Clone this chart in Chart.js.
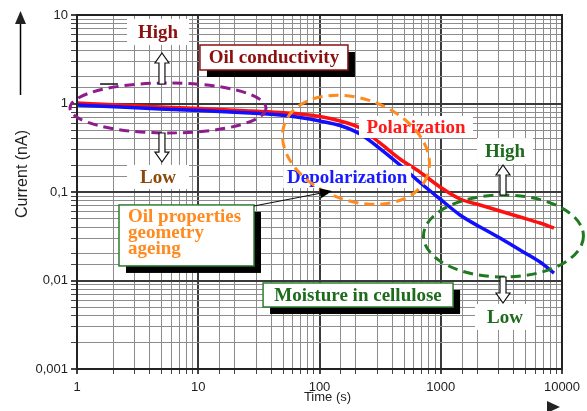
<!DOCTYPE html>
<html>
<head>
<meta charset="utf-8">
<script src="https://cdn.jsdelivr.net/npm/chart.js@4.4.0/dist/chart.umd.min.js"></script>
<style>
  html, body { margin: 0; padding: 0; background: #fff; }
  #wrap { width: 587px; height: 411px; position: relative; }
</style>
</head>
<body>
<div id="wrap"><canvas id="pdcChart"></canvas></div>
<script>
"use strict";
const timeS = [1, 2.26, 4.84, 10.3, 22.1, 47.2, 69.1, 101, 148, 216, 315, 461, 674, 986, 1442, 2108, 3082, 4506, 6587, 8590];
const polarizationNA = [1.013, 0.962, 0.913, 0.878, 0.834, 0.791, 0.761, 0.713, 0.634, 0.529, 0.358, 0.236, 0.168, 0.114, 0.0834, 0.0713, 0.061, 0.0522, 0.0446, 0.0392];
const depolarizationNA = [0.962, 0.913, 0.867, 0.834, 0.791, 0.741, 0.695, 0.634, 0.564, 0.452, 0.310, 0.202, 0.128, 0.0834, 0.055, 0.0402, 0.0302, 0.0221, 0.0162, 0.01215];

const timeTicks = [1, 10, 100, 1000, 10000];
const timeTickLabels = ['1', '10', '100', '1000', '10000'];
const currentTicks = [0.001, 0.01, 0.1, 1, 10];
const currentTickLabels = ['0,001', '0,01', '0,1', '1', '10'];

// annotations, anchored in data coordinates (time s, current nA)
const noteEllipses = [
  { x: 5.63, y: 0.89, rx: 98, ry: 25, rot: 0, color: '#8e1c8e' },
  { x: 200, y: 0.30, rx: 76, ry: 51, rot: 0.35, color: '#ff8a1f' },
  { x: 3290, y: 0.0318, rx: 80, ry: 41, rot: 0, color: '#1f7a1f' }
];
const noteLabels = [
  { text: 'High', x: 4.66, y: 6.43, color: '#8b1010', w: 62, h: 26 },
  { text: 'Low', x: 4.66, y: 0.148, color: '#8b4a0c', w: 62, h: 24 },
  { text: 'Polarization', x: 625, y: 0.543, color: '#ff1a1a', w: 114, h: 22 },
  { text: 'Depolarization', x: 169, y: 0.148, color: '#1a1aff', w: 128, h: 22 },
  { text: 'High', x: 3390, y: 0.29, color: '#1e6b1e', w: 56, h: 26 },
  { text: 'Low', x: 3390, y: 0.00387, color: '#1e6b1e', w: 60, h: 26 }
];
const noteBoxes = [
  { lines: ['Oil conductivity'], x: 42.1, y: 3.31, w: 148, h: 25, border: '#8b1010', color: '#8b1010', align: 'center' },
  { lines: ['Oil properties', 'geometry', 'ageing'], x: 8.0, y: 0.0323, w: 135, h: 61, border: '#2e7d32', color: '#ff8a1f', align: 'left' },
  { lines: ['Moisture in cellulose'], x: 208, y: 0.00686, w: 190, h: 24, border: '#2e7d32', color: '#1e6b1e', align: 'center' }
];
const hollowArrows = [
  { x: 5.02, from: 1.66, to: 3.72 },
  { x: 5.02, from: 0.464, to: 0.218 },
  { x: 3262, from: 0.0925, to: 0.2018 },
  { x: 3262, from: 0.01095, to: 0.00557 }
];
const pointer = { fromX: 28.8, fromY: 0.0695, toX: 126.8, toY: 0.1026 };
const shortDash = { fromX: 1.55, toX: 2.18, y: 1.66 };

const serifBold = 'bold 19px "Liberation Serif", "DejaVu Serif", serif';

function isDecade(v){
  let l = Math.log10(v);
  return Math.abs(l - Math.round(l)) < 1e-6;
}
function labelFor(v, ticks, labels){
  for(let i = 0; i < ticks.length; i++){
    if(Math.abs(Math.log10(v) - Math.log10(ticks[i])) < 1e-6) return labels[i];
  }
  return '';
}

function hollowArrow(ctx, x, yBase, yTip){
  let dir = yTip < yBase ? -1 : 1;
  let headLen = 10, headHalf = 7, shaftHalf = 3;
  let yHead = yTip - dir * headLen;
  ctx.beginPath();
  ctx.moveTo(x - shaftHalf, yBase);
  ctx.lineTo(x - shaftHalf, yHead);
  ctx.lineTo(x - headHalf, yHead);
  ctx.lineTo(x, yTip);
  ctx.lineTo(x + headHalf, yHead);
  ctx.lineTo(x + shaftHalf, yHead);
  ctx.lineTo(x + shaftHalf, yBase);
  ctx.closePath();
  ctx.fillStyle = '#fff';
  ctx.fill();
  ctx.strokeStyle = '#111';
  ctx.lineWidth = 1.2;
  ctx.stroke();
}

const notesPlugin = {
  id: 'pdcNotes',
  afterDatasetsDraw(chart){
    const ctx = chart.ctx;
    const xs = chart.scales.x, ys = chart.scales.y;
    const area = chart.chartArea;
    ctx.save();

    // frame around the plot
    ctx.strokeStyle = '#222';
    ctx.lineWidth = 2;
    ctx.strokeRect(area.left, area.top, area.right - area.left, area.bottom - area.top);

    ctx.textAlign = 'center';
    ctx.textBaseline = 'middle';
    ctx.font = serifBold;

    // white patches + labels
    noteLabels.forEach(n => {
      let px = xs.getPixelForValue(n.x), py = ys.getPixelForValue(n.y);
      ctx.fillStyle = '#fff';
      ctx.fillRect(px - n.w / 2, py - n.h / 2, n.w, n.h);
      ctx.fillStyle = n.color;
      ctx.fillText(n.text, px, py + 1);
    });

    // shadowed boxes
    noteBoxes.forEach(b => {
      let cx = xs.getPixelForValue(b.x), cy = ys.getPixelForValue(b.y);
      let left = cx - b.w / 2, top = cy - b.h / 2;
      ctx.fillStyle = '#000';
      ctx.fillRect(left + 7, top + 7, b.w, b.h);
      ctx.fillStyle = '#fff';
      ctx.fillRect(left, top, b.w, b.h);
      ctx.strokeStyle = b.border;
      ctx.lineWidth = 1.5;
      ctx.strokeRect(left, top, b.w, b.h);
      ctx.fillStyle = b.color;
      if(b.align == 'left'){
        ctx.textAlign = 'left';
        b.lines.forEach((t, i) => ctx.fillText(t, left + 9, top + 12 + i * 16));
        ctx.textAlign = 'center';
      }
      else {
        ctx.fillText(b.lines[0], cx, cy + 1);
      }
    });

    // dashed ellipses
    ctx.setLineDash([10, 6]);
    ctx.lineWidth = 3;
    noteEllipses.forEach(e => {
      ctx.strokeStyle = e.color;
      ctx.beginPath();
      ctx.ellipse(xs.getPixelForValue(e.x), ys.getPixelForValue(e.y), e.rx, e.ry, e.rot, 0, Math.PI * 2);
      ctx.stroke();
    });
    ctx.setLineDash([]);

    // up / down arrows
    hollowArrows.forEach(a => {
      hollowArrow(ctx, xs.getPixelForValue(a.x), ys.getPixelForValue(a.from), ys.getPixelForValue(a.to));
    });

    // pointer from the oil properties box
    let x0 = xs.getPixelForValue(pointer.fromX), y0 = ys.getPixelForValue(pointer.fromY);
    let x1 = xs.getPixelForValue(pointer.toX), y1 = ys.getPixelForValue(pointer.toY);
    let ang = Math.atan2(y1 - y0, x1 - x0);
    ctx.strokeStyle = '#111';
    ctx.lineWidth = 1.2;
    ctx.beginPath();
    ctx.moveTo(x0, y0);
    ctx.lineTo(x1 - 8 * Math.cos(ang), y1 - 8 * Math.sin(ang));
    ctx.stroke();
    ctx.fillStyle = '#000';
    ctx.beginPath();
    ctx.moveTo(x1, y1);
    ctx.lineTo(x1 - 12 * Math.cos(ang) + 5 * Math.sin(ang), y1 - 12 * Math.sin(ang) - 5 * Math.cos(ang));
    ctx.lineTo(x1 - 12 * Math.cos(ang) - 5 * Math.sin(ang), y1 - 12 * Math.sin(ang) + 5 * Math.cos(ang));
    ctx.closePath();
    ctx.fill();

    // little dash left of the purple ellipse
    let dy = ys.getPixelForValue(shortDash.y);
    ctx.lineWidth = 1.5;
    ctx.beginPath();
    ctx.moveTo(xs.getPixelForValue(shortDash.fromX), dy);
    ctx.lineTo(xs.getPixelForValue(shortDash.toX), dy);
    ctx.stroke();

    // axis titles and direction arrows
    ctx.fillStyle = '#222';
    ctx.font = '13px "Liberation Sans", Arial, sans-serif';
    ctx.fillText('Time (s)', (area.left + area.right) / 2 + 8, chart.height - 14);
    ctx.save();
    ctx.translate(23, 174);
    ctx.rotate(-Math.PI / 2);
    ctx.font = '16px "Liberation Sans", Arial, sans-serif';
    ctx.fillText('Current (nA)', 0, 0);
    ctx.restore();

    ctx.strokeStyle = '#000';
    ctx.lineWidth = 1.5;
    ctx.beginPath();
    ctx.moveTo(20.5, 95);
    ctx.lineTo(20.5, 22);
    ctx.stroke();
    ctx.beginPath();
    ctx.moveTo(20.5, 11);
    ctx.lineTo(26, 24);
    ctx.lineTo(15, 24);
    ctx.closePath();
    ctx.fill();

    ctx.beginPath();
    ctx.moveTo(560, 407);
    ctx.lineTo(547, 401);
    ctx.lineTo(547, 413);
    ctx.closePath();
    ctx.fill();

    ctx.restore();
  }
};

let gridColor = (c) => (c.tick && isDecade(c.tick.value)) ? '#3a3a3a' : '#8c8c8c';
let gridWidth = (c) => (c.tick && isDecade(c.tick.value)) ? 2 : 1;

let pdcChart = new Chart(document.getElementById('pdcChart'), {
  type: 'line',
  data: {
    datasets: [
      {
        label: 'Depolarization',
        data: timeS.map((t, i) => ({ x: t, y: depolarizationNA[i] })),
        borderColor: '#1010ff',
        borderWidth: 3.5,
        pointRadius: 0,
        fill: false,
        cubicInterpolationMode: 'monotone'
      },
      {
        label: 'Polarization',
        data: timeS.map((t, i) => ({ x: t, y: polarizationNA[i] })),
        borderColor: '#ff1010',
        borderWidth: 3.5,
        pointRadius: 0,
        fill: false,
        cubicInterpolationMode: 'monotone'
      }
    ]
  },
  options: {
    responsive: true,
    maintainAspectRatio: false,
    animation: false,
    layout: { padding: { top: 15, right: 25, left: 0, bottom: 0 } },
    plugins: {
      legend: { display: false },
      tooltip: { enabled: false }
    },
    scales: {
      x: {
        type: 'logarithmic',
        min: 1,
        max: 10000,
        afterFit: (s) => { s.height = 42; },
        border: { display: true, color: '#222', width: 2 },
        grid: { color: gridColor, lineWidth: gridWidth, tickLength: 5, tickColor: '#444' },
        ticks: {
          autoSkip: false,
          maxRotation: 0,
          padding: 6,
          color: '#222',
          font: { family: '"Liberation Sans", Arial, sans-serif', size: 13 },
          callback: (v) => labelFor(v, timeTicks, timeTickLabels)
        }
      },
      y: {
        type: 'logarithmic',
        min: 0.001,
        max: 10,
        afterFit: (s) => { s.width = 77; },
        border: { display: true, color: '#222', width: 2 },
        grid: { color: gridColor, lineWidth: gridWidth, tickLength: 6, tickColor: '#444' },
        ticks: {
          autoSkip: false,
          padding: 3,
          color: '#222',
          font: { family: '"Liberation Sans", Arial, sans-serif', size: 13 },
          callback: (v) => labelFor(v, currentTicks, currentTickLabels)
        }
      }
    }
  },
  plugins: [notesPlugin]
});
</script>
</body>
</html>
